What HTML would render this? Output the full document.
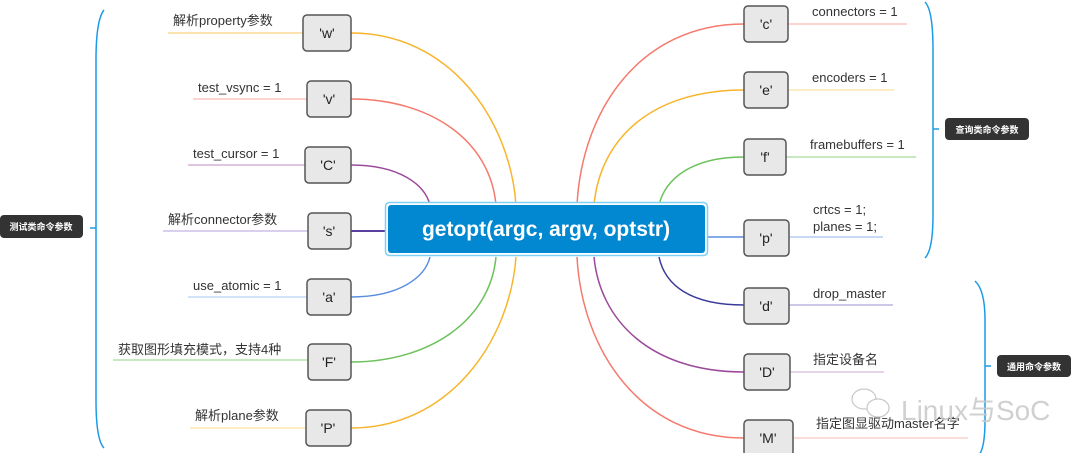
<!DOCTYPE html>
<html><head><meta charset="utf-8"><style>
body{margin:0;background:#fff;width:1080px;height:453px;overflow:hidden}
svg{display:block}
text{font-family:"Liberation Sans","Noto Sans CJK SC",sans-serif}
.l{font-size:13px;fill:#333}
.n{font-size:14px;fill:#222;text-anchor:middle}
.t{font-size:9px;fill:#fff;font-weight:bold;text-anchor:middle}
</style></head><body>
<svg width="1080" height="453" viewBox="0 0 1080 453" fill="none">
<!-- left curves -->
<path d="M351 33 C450 33 510 120 516 205" stroke="#f7b52c" stroke-width="1.5"/>
<line x1="168" y1="33" x2="303" y2="33" stroke="#f7c55c"/>
<path d="M351 99 C430 99 490 140 496 205" stroke="#f47a6e" stroke-width="1.5"/>
<line x1="193" y1="99" x2="307" y2="99" stroke="#f8a9a2"/>
<path d="M351 165 C400 165 425 185 430 205" stroke="#9b4a9b" stroke-width="1.5"/>
<line x1="188" y1="165" x2="305" y2="165" stroke="#c08ac0"/>
<line x1="351" y1="231" x2="387" y2="231" stroke="#5b3f9f" stroke-width="2"/>
<line x1="163" y1="231" x2="308" y2="231" stroke="#b0a0d8"/>
<path d="M351 297 C400 297 425 277 430 257" stroke="#5b8fdf" stroke-width="1.5"/>
<line x1="188" y1="297" x2="307" y2="297" stroke="#a8c8f0"/>
<path d="M351 362 C430 362 490 320 496 257" stroke="#6bc25a" stroke-width="1.5"/>
<line x1="113" y1="360" x2="308" y2="360" stroke="#8fd080"/>
<path d="M351 428 C450 428 510 340 516 257" stroke="#f7b52c" stroke-width="1.5"/>
<line x1="190" y1="428" x2="306" y2="428" stroke="#fbd98a"/>
<!-- right curves -->
<path d="M744 24 C640 24 582 110 577 205" stroke="#f47a6e" stroke-width="1.5"/>
<line x1="788" y1="24" x2="907" y2="24" stroke="#f8a9a2"/>
<path d="M744 90 C650 90 600 140 594 205" stroke="#f7b52c" stroke-width="1.5"/>
<line x1="788" y1="90" x2="894" y2="90" stroke="#fbd98a"/>
<path d="M744 157 C690 157 665 180 659 205" stroke="#6bc25a" stroke-width="1.5"/>
<line x1="786" y1="157" x2="916" y2="157" stroke="#8fd080"/>
<line x1="707" y1="237" x2="744" y2="237" stroke="#5b8fdf" stroke-width="1.5"/>
<line x1="789" y1="237" x2="883" y2="237" stroke="#8fb4ea"/>
<path d="M744 305 C690 305 665 285 659 257" stroke="#3b3a9a" stroke-width="1.5"/>
<line x1="789" y1="305" x2="893" y2="305" stroke="#9a90d0"/>
<path d="M744 372 C650 372 600 320 594 257" stroke="#9b4a9b" stroke-width="1.5"/>
<line x1="790" y1="372" x2="884" y2="372" stroke="#d0a8d0"/>
<path d="M744 438 C640 438 582 350 577 257" stroke="#f47a6e" stroke-width="1.5"/>
<line x1="793" y1="438" x2="968" y2="438" stroke="#f8b8b0"/>
<!-- center -->
<rect x="385.5" y="202.5" width="322" height="53" rx="4" fill="#fff" stroke="#7fd0f7" stroke-width="1.5"/>
<rect x="388" y="205" width="317" height="48" rx="3" fill="#0288d1"/>
<text x="546" y="236" font-size="21" font-weight="bold" fill="#fff" text-anchor="middle">getopt(argc, argv, optstr)</text>
<!-- nodes -->
<g fill="#e8e8e8" stroke="#555" stroke-width="1.5">
<rect x="303" y="15" width="48" height="36" rx="4"/>
<rect x="307" y="81" width="44" height="36" rx="4"/>
<rect x="305" y="147" width="46" height="36" rx="4"/>
<rect x="308" y="213" width="43" height="36" rx="4"/>
<rect x="307" y="279" width="44" height="36" rx="4"/>
<rect x="308" y="344" width="43" height="36" rx="4"/>
<rect x="306" y="410" width="45" height="36" rx="4"/>
<rect x="744" y="6" width="44" height="36" rx="4"/>
<rect x="744" y="72" width="44" height="36" rx="4"/>
<rect x="744" y="139" width="42" height="36" rx="4"/>
<rect x="744" y="220" width="45" height="36" rx="4"/>
<rect x="744" y="288" width="45" height="36" rx="4"/>
<rect x="744" y="354" width="46" height="36" rx="4"/>
<rect x="744" y="420" width="49" height="36" rx="4"/>
</g>
<text class="n" x="327" y="38">'w'</text>
<text class="n" x="329" y="104">'v'</text>
<text class="n" x="328" y="170">'C'</text>
<text class="n" x="329" y="236">'s'</text>
<text class="n" x="329" y="302">'a'</text>
<text class="n" x="329" y="367">'F'</text>
<text class="n" x="328" y="433">'P'</text>
<text class="n" x="766" y="29">'c'</text>
<text class="n" x="766" y="95">'e'</text>
<text class="n" x="765" y="162">'f'</text>
<text class="n" x="766" y="243">'p'</text>
<text class="n" x="766" y="311">'d'</text>
<text class="n" x="767" y="377">'D'</text>
<text class="n" x="768" y="443">'M'</text>
<!-- labels -->
<text class="l" x="173" y="25">解析property参数</text>
<text class="l" x="198" y="92">test_vsync = 1</text>
<text class="l" x="193" y="158">test_cursor = 1</text>
<text class="l" x="168" y="224">解析connector参数</text>
<text class="l" x="193" y="290">use_atomic = 1</text>
<text class="l" x="118" y="354">获取图形填充模式，支持4种</text>
<text class="l" x="195" y="420">解析plane参数</text>
<text class="l" x="812" y="16">connectors = 1</text>
<text class="l" x="812" y="82">encoders = 1</text>
<text class="l" x="810" y="149">framebuffers = 1</text>
<text class="l" x="813" y="214">crtcs = 1;</text>
<text class="l" x="813" y="231">planes = 1;</text>
<text class="l" x="813" y="298">drop_master</text>
<text class="l" x="813" y="364">指定设备名</text>
<text class="l" x="816" y="428">指定图显驱动master名字</text>
<!-- brackets -->
<path d="M104 10 Q96 20 96 60 L96 400 Q96 440 104 448" stroke="#1a9be6" stroke-width="1.5"/>
<line x1="90" y1="228" x2="96" y2="228" stroke="#1a9be6" stroke-width="1.5"/>
<rect x="0" y="215" width="83" height="23" rx="4" fill="#333"/>
<text class="t" x="41" y="230">测试类命令参数</text>
<path d="M925 2 Q933 10 933 50 L933 215 Q933 250 925 258" stroke="#1a9be6" stroke-width="1.5"/>
<line x1="933" y1="129" x2="939" y2="129" stroke="#1a9be6" stroke-width="1.5"/>
<rect x="945" y="118" width="84" height="22" rx="4" fill="#333"/>
<text class="t" x="987" y="133">查询类命令参数</text>
<path d="M975 281 Q985 290 985 320 L985 420 Q985 450 978 456" stroke="#1a9be6" stroke-width="1.5"/>
<line x1="985" y1="366" x2="991" y2="366" stroke="#1a9be6" stroke-width="1.5"/>
<rect x="997" y="355" width="74" height="22" rx="4" fill="#333"/>
<text class="t" x="1034" y="370">通用命令参数</text>
<!-- watermark -->
<g stroke="#bbb" stroke-width="1.2" opacity="0.8">
<ellipse cx="864" cy="399" rx="12" ry="10" fill="#fff"/>
<ellipse cx="878" cy="408" rx="11" ry="9" fill="#fff"/>
</g>
<text x="901" y="420" font-size="28" fill="#c8c8c8" fill-opacity="0.85">Linux与SoC</text>
</svg>
</body></html>
